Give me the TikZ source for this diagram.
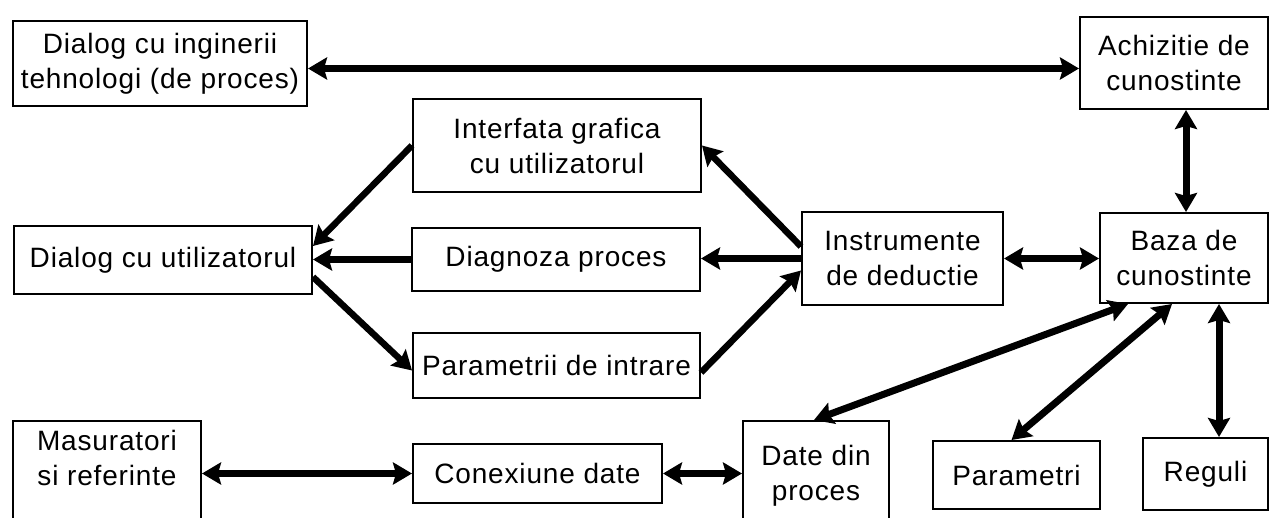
\documentclass[tikz,border=0pt]{standalone}
\usepackage{fontspec}
\setmainfont{Liberation Sans}[LetterSpace=3]
\usetikzlibrary{arrows.meta}
\begin{document}
\begin{tikzpicture}[x=1pt,y=-1pt,
  lbl/.style={inner sep=0pt, align=center, font=\fontsize{28}{35}\selectfont},
  box/.style={draw, line width=2pt, inner sep=0pt, anchor=north west, align=center,
              font=\fontsize{28}{35}\selectfont},
  tip/.tip={Stealth[length=19pt,width=22pt,inset=3pt]},
  onearrow/.style={line width=6.5pt, -tip},
  twoarrow/.style={line width=7pt, tip-tip}]
\useasboundingbox (0,0) rectangle (1269,518);
\clip (0,0) rectangle (1269,518);

% boxes, placed by their top-left corners
\node[box, minimum width=294, minimum height=85] (ding) at (12,20) {Dialog cu inginerii\\tehnologi (de proces)};
\node[box, minimum width=188, minimum height=92] (achiz) at (1079,16) {Achizitie de\\cunostinte};
\node[box, minimum width=288, minimum height=93] (interf) at (412,98) {Interfata grafica\\cu utilizatorul};
\node[box, minimum width=298, minimum height=68] (dutil) at (13,225) {Dialog cu utilizatorul};
\node[box, minimum width=288, minimum height=63] (diag) at (411,227) {Diagnoza proces};
\node[box, minimum width=201, minimum height=93] (instr) at (801,211) {Instrumente\\de deductie};
\node[box, minimum width=168, minimum height=90] (baza) at (1099,212) {Baza de\\cunostinte};
\node[box, minimum width=287, minimum height=65] (pin) at (412,332) {Parametrii de intrare};
\node[box, minimum width=249, minimum height=59] (conex) at (412,443) {Conexiune date};
\node[box, minimum width=167, minimum height=68] (parm) at (932,440) {Parametri};
\node[box, minimum width=125, minimum height=72] (reg) at (1142,437) {Reguli};

% boxes running past the lower edge
\node[box, minimum width=188, minimum height=130] (mas) at (12,420) {};
\node[lbl] (mastext) at ([yshift=-38pt]mas.north) {Masuratori\\si referinte};
\node[box, minimum width=146, minimum height=130] (date) at (742,420) {};
\node[lbl] (datetext) at ([yshift=-56pt]date.north) {Date din\\proces};

% connectors
\draw[twoarrow] ([yshift=-5pt]ding.east) -- ([yshift=-5pt]ding.east -| achiz.west);
\draw[twoarrow] ([xshift=87pt]baza.north west) -- ([xshift=87pt]baza.north west |- achiz.south);
\draw[onearrow] (interf.west) -- ([yshift=14pt]dutil.east);
\draw[onearrow] (diag.west) -- (diag.west -| dutil.east);
\draw[onearrow] ([yshift=-17pt]dutil.east) -- ([yshift=-5pt]pin.west);
\draw[onearrow] ([yshift=12pt]instr.west) -- (interf.east);
\draw[onearrow] (instr.west) -- (instr.west -| diag.east);
\draw[onearrow] ([yshift=-7pt]pin.east) -- ([yshift=-12pt]instr.west);
\draw[twoarrow] (instr.east) -- (instr.east -| baza.west);
\draw[twoarrow] ([xshift=29pt]baza.south west) -- ([xshift=-2pt]date.north);
\draw[twoarrow] ([xshift=73pt]baza.south west) -- ([xshift=-5pt]parm.north);
\draw[twoarrow] ([xshift=120pt]baza.south west) -- ([xshift=120pt]baza.south west |- reg.north);
\draw[twoarrow] (conex.west -| mas.east) -- (conex.west);
\draw[twoarrow] (conex.east) -- (conex.east -| date.west);
\end{tikzpicture}
\end{document}
